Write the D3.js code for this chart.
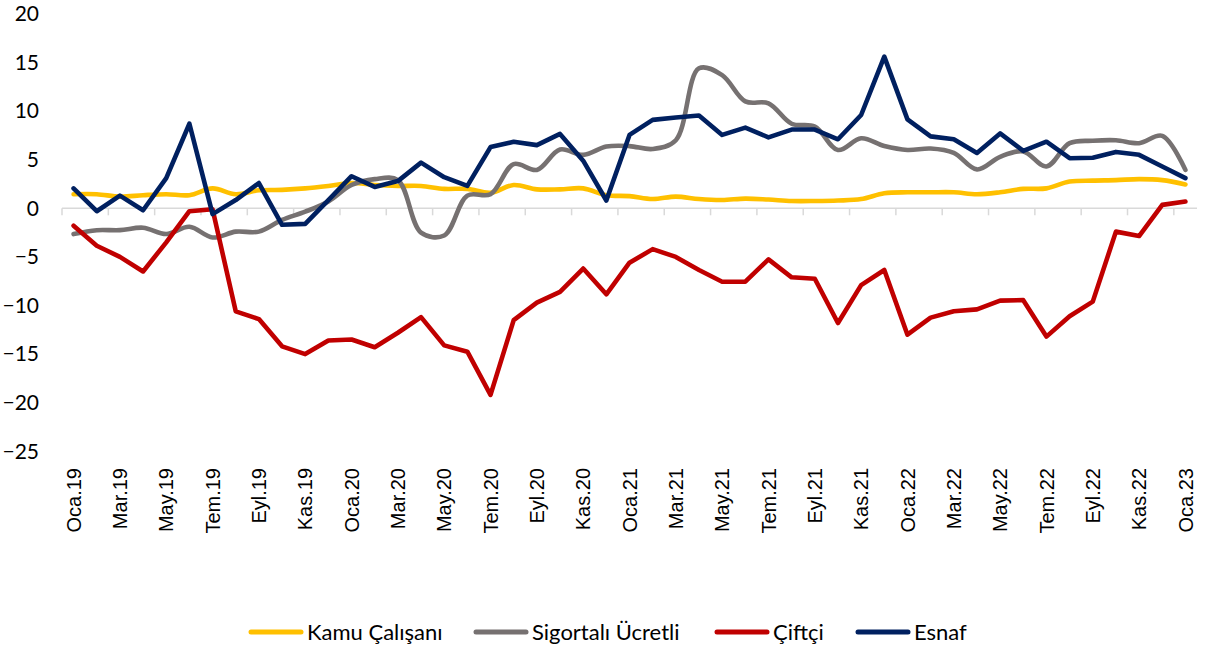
<!DOCTYPE html>
<html>
<head>
<meta charset="utf-8">
<script src="https://cdn.jsdelivr.net/npm/d3@7"></script>
<style>
  body { margin: 0; background: #fff; }
  svg { display: block; }
</style>
</head>
<body>
<div id="chart"></div>
<script>
const months = [
  'Oca.19','Şub.19','Mar.19','Nis.19','May.19','Haz.19','Tem.19','Ağu.19','Eyl.19','Eki.19','Kas.19','Ara.19',
  'Oca.20','Şub.20','Mar.20','Nis.20','May.20','Haz.20','Tem.20','Ağu.20','Eyl.20','Eki.20','Kas.20','Ara.20',
  'Oca.21','Şub.21','Mar.21','Nis.21','May.21','Haz.21','Tem.21','Ağu.21','Eyl.21','Eki.21','Kas.21','Ara.21',
  'Oca.22','Şub.22','Mar.22','Nis.22','May.22','Haz.22','Tem.22','Ağu.22','Eyl.22','Eki.22','Kas.22','Ara.22',
  'Oca.23'
];

const kamu = [
  1.45, 1.45, 1.2, 1.35, 1.45, 1.35, 2.05, 1.45, 1.85, 1.9, 2.05, 2.3,
  2.6, 2.4, 2.3, 2.3, 2.0, 2.0, 1.6, 2.4, 1.95, 1.95, 2.05, 1.35,
  1.25, 0.95, 1.2, 0.95, 0.85, 1.0, 0.9, 0.75, 0.75, 0.8, 0.95, 1.55,
  1.65, 1.65, 1.65, 1.45, 1.65, 2.0, 2.05, 2.75, 2.85, 2.9, 3.0, 2.9,
  2.45
];
const sigortali = [
  -2.65, -2.25, -2.25, -2.0, -2.65, -1.9, -3.0, -2.4, -2.4, -1.2, -0.35, 0.7,
  2.4, 3.0, 2.9, -2.5, -2.8, 1.3, 1.45, 4.55, 3.95, 6.05, 5.5, 6.35,
  6.4, 6.1, 7.0, 14.4, 13.7, 11.0, 10.8, 8.7, 8.4, 6.0, 7.2, 6.4,
  6.0, 6.15, 5.7, 4.0, 5.3, 5.85, 4.3, 6.7, 6.95, 7.0, 6.7, 7.45,
  3.95
];
const ciftci = [
  -1.8, -3.85, -5.0, -6.5, -3.5, -0.3, -0.1, -10.6, -11.4, -14.2, -15.0, -13.6,
  -13.5, -14.3, -12.8, -11.2, -14.1, -14.75, -19.2, -11.5, -9.7, -8.6, -6.2, -8.85,
  -5.6, -4.2, -5.0, -6.35, -7.55, -7.55, -5.25, -7.1, -7.25, -11.8, -7.9, -6.35,
  -13.0, -11.25, -10.6, -10.4, -9.5, -9.45, -13.2, -11.1, -9.6, -2.4, -2.85, 0.35,
  0.7
];
const esnaf = [
  2.05, -0.3, 1.3, -0.2, 3.1, 8.7, -0.6, 0.85, 2.6, -1.7, -1.6, 0.85,
  3.3, 2.2, 2.8, 4.7, 3.2, 2.3, 6.3, 6.85, 6.5, 7.65, 4.9, 0.8,
  7.55, 9.1, 9.35, 9.55, 7.55, 8.3, 7.3, 8.1, 8.1, 7.1, 9.6, 15.6,
  9.15, 7.4, 7.1, 5.7, 7.7, 5.9, 6.85, 5.15, 5.2, 5.8, 5.5, 4.3,
  3.1
];

const seriesNames = ['Kamu Çalışanı', 'Sigortalı Ücretli', 'Çiftçi', 'Esnaf'];
const seriesValues = [kamu, sigortali, ciftci, esnaf];
const colors = ['#FFC000', '#767171', '#C00000', '#002060'];
const smooth = [true, true, false, false];
const yTicks = [20, 15, 10, 5, 0, -5, -10, -15, -20, -25];

const width = 1206, height = 647;
const svg = d3.select('#chart').append('svg')
  .attr('width', width)
  .attr('height', height);

const x = d3.scaleBand()
  .domain(months)
  .range([62, 1197])
  .paddingInner(0)
  .paddingOuter(0);
const cx = d => x(d) + x.bandwidth() / 2;

const y = d3.scaleLinear()
  .domain([-25, 20])
  .range([451.3, 13.9]);

// y axis labels
const yAxis = svg.append('g')
  .attr('transform', 'translate(39,0)')
  .call(d3.axisLeft(y).tickValues(yTicks).tickSize(0).tickPadding(0).tickFormat(d3.format('d')));
yAxis.select('.domain').remove();
yAxis.selectAll('text')
  .attr('font-family', 'Lato, "Open Sans", sans-serif')
  .attr('font-size', 21)
  .attr('fill', '#000');

// zero line + ticks
const axisG = svg.append('g');
axisG.append('line')
  .attr('x1', 62).attr('x2', 1197)
  .attr('y1', y(0)).attr('y2', y(0))
  .attr('stroke', '#D9D9D9')
  .attr('stroke-width', 1.5);
axisG.selectAll('line.tick')
  .data(months.filter((m, i) => i % 2 === 0))
  .enter().append('line')
  .attr('class', 'tick')
  .attr('x1', d => x(d)).attr('x2', d => x(d))
  .attr('y1', y(0)).attr('y2', y(0) + 7)
  .attr('stroke', '#D9D9D9')
  .attr('stroke-width', 1.5);

// x labels, rotated
svg.append('g')
  .selectAll('text')
  .data(months.filter((m, i) => i % 2 === 0))
  .enter().append('text')
  .attr('transform', d => `translate(${cx(d)},468) rotate(-90)`)
  .attr('text-anchor', 'end')
  .attr('dy', '0.36em')
  .attr('font-family', '"Liberation Sans", Arial, sans-serif')
  .attr('font-size', 20)
  .attr('fill', '#000')
  .text(d => d);

// lines
seriesValues.forEach((vals, si) => {
  const line = d3.line()
    .x((d, i) => cx(months[i]))
    .y(d => y(d))
    .curve(smooth[si] ? d3.curveCatmullRom.alpha(0.5) : d3.curveLinear);
  svg.append('path')
    .datum(vals)
    .attr('fill', 'none')
    .attr('stroke', colors[si])
    .attr('stroke-width', 4.6)
    .attr('stroke-linejoin', 'round')
    .attr('stroke-linecap', 'round')
    .attr('d', line);
});

// legend
const legendX = [249, 474, 715, 856];
const legend = svg.append('g').attr('transform', 'translate(0,632)');
seriesNames.forEach((name, i) => {
  legend.append('line')
    .attr('x1', legendX[i] + 2).attr('x2', legendX[i] + 52)
    .attr('y1', 0).attr('y2', 0)
    .attr('stroke', colors[i])
    .attr('stroke-width', 5)
    .attr('stroke-linecap', 'round');
  legend.append('text')
    .attr('x', legendX[i] + 58)
    .attr('y', 0)
    .attr('dy', '0.35em')
    .attr('font-family', 'Lato, "Open Sans", sans-serif')
    .attr('font-size', 22)
    .attr('fill', '#000')
    .text(name);
});
</script>
</body>
</html>
